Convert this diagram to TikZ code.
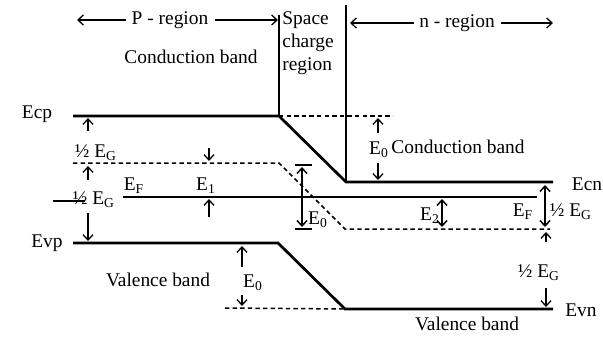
\documentclass[tikz,border=0pt]{standalone}
\usepackage{fontspec}
\setmainfont{Liberation Serif}
\usetikzlibrary{arrows.meta}
\begin{document}
\begin{tikzpicture}[x=0.5pt,y=-0.5pt,
  band/.style={line width=1.35pt},
  thinln/.style={line width=0.7pt},
  wall/.style={line width=0.9pt},
  lvl/.style={line width=0.75pt, dash pattern=on 2.2pt off 1.6pt},
  lbl/.style={font=\fontsize{9.7}{11}\selectfont, inner sep=0pt},
  arr/.style={line width=0.65pt,-{Straight Barb[length=2.7pt,width=5pt]}},
  darr/.style={line width=0.75pt,{Straight Barb[length=2.7pt,width=5pt]}-{Straight Barb[length=2.7pt,width=5pt]}},
]
\useasboundingbox (0,0) rectangle (603,342);

% band corners
\coordinate (cpL) at (73,116);
\coordinate (cpR) at (279,116);
\coordinate (cnL) at (346,182);
\coordinate (cnR) at (553,182);
\coordinate (vpL) at (73,243);
\coordinate (vpR) at (278,243);
\coordinate (vnL) at (345,309);
\coordinate (vnR) at (553,309);
\coordinate (ipL) at (73,163);
\coordinate (ipR) at (279,163);
\coordinate (inL) at (345,229);
\coordinate (inR) at (550,229);
\coordinate (fL) at (123,197);
\coordinate (fR) at (537,197);
\coordinate (cext) at (393,116);
\coordinate (vext) at (225,308);
\coordinate (w1top) at (279,15);
\coordinate (w2top) at (346,5);

% bands and levels
\draw[band] (cpL) -- (cpR) -- (cnL) -- (cnR);
\draw[band] (vpL) -- (vpR) -- (vnL) -- (vnR);
\draw[lvl] (ipL) -- (ipR) -- (inL) -- (inR);
\draw[thinln] (fL) -- (fR);
\draw[lvl] (cpR) -- (cext);
\draw[lvl] (vext) -- (vnL);
\draw[wall] (w1top) -- (cpR);
\draw[wall] (w2top) -- (cnL);

% top labels
\node[lbl] (preg) at (170,20) {P - region};
\coordinate (pA) at (77,20);
\coordinate (pB) at (278,20);
\draw[arr] ([xshift=-2.5pt]preg.west) -- (pA);
\draw[arr] ([xshift=3pt]preg.east) -- (pB);
\node[lbl] (nreg) at (457,23) {n - region};
\coordinate (nA) at (350,23);
\coordinate (nB) at (553,23);
\draw[arr] ([xshift=-2.5pt]nreg.west) -- (nA);
\draw[arr] ([xshift=3pt]nreg.east) -- (nB);
\node[lbl, anchor=base west] (sc1) at (282,25) {Space};
\node[lbl, anchor=base west] (sc2) at (282,47.5) {charge};
\node[lbl, anchor=base west] (sc3) at (282,70) {region};

% band labels
\node[lbl] (Ecp) at (37,114) {Ecp};
\node[lbl] (Ecn) at (587,184) {Ecn};
\node[lbl] (Evp) at (47,243) {Evp};
\node[lbl] (Evn) at (581,310) {Evn};
\node[lbl] (cb1) at (191,57) {Conduction band};
\node[lbl] (cb2) at (458,147) {Conduction band};
\node[lbl] (vb1) at (158,280) {Valence band};
\node[lbl] (vb2) at (467,324) {Valence band};

% energy labels
\node[lbl] (hEG1) at (96,153) {½ E\textsubscript{G}};
\node[lbl] (hEG2) at (94,200) {½ E\textsubscript{G}};
\node[lbl] (hEG3) at (571,212) {½ E\textsubscript{G}};
\node[lbl] (hEG4) at (539,273) {½ E\textsubscript{G}};
\node[lbl] (EF1) at (134,186) {E\textsubscript{F}};
\node[lbl] (EF2) at (523,212) {E\textsubscript{F}};
\node[lbl] (E1) at (206,186) {E\textsubscript{1}};
\node[lbl] (E2) at (430,216) {E\textsubscript{2}};
\node[lbl] (E0a) at (379,150) {E\textsubscript{0}};
\node[lbl] (E0b) at (318,220) {E\textsubscript{0}};
\node[lbl] (E0c) at (253,283) {E\textsubscript{0}};

% strike line through lower half-gap label
\coordinate (sA) at (53,201);
\coordinate (sB) at (85,201);
\draw[thinln] (sA) -- (sB);

% arrow ends
\coordinate (a1t) at (88,131);  \coordinate (a1h) at (88,118);
\coordinate (a2t) at (209,148); \coordinate (a2h) at (209,161);
\coordinate (a3t) at (88,180);  \coordinate (a3h) at (88,166);
\coordinate (a4t) at (88,213);  \coordinate (a4h) at (88,241);
\coordinate (a5t) at (209,217); \coordinate (a5h) at (209,199);
\coordinate (a6t) at (378,133); \coordinate (a6h) at (378,118);
\coordinate (a7t) at (378,163); \coordinate (a7h) at (378,180);
\coordinate (a8t) at (442,199); \coordinate (a8h) at (442,227);
\coordinate (a9t) at (302,167); \coordinate (a9h) at (302,227);
\coordinate (a10t) at (545,185); \coordinate (a10h) at (545,227);
\coordinate (a11t) at (546,242); \coordinate (a11h) at (546,232);
\coordinate (a12t) at (546,288); \coordinate (a12h) at (546,307);
\coordinate (a13t) at (242,267); \coordinate (a13h) at (242,246);
\coordinate (a14t) at (242,295); \coordinate (a14h) at (242,306);

\draw[arr] (a1t) -- (a1h);
\draw[arr] (a2t) -- (a2h);
\draw[arr] (a3t) -- (a3h);
\draw[arr] (a4t) -- (a4h);
\draw[arr] (a5t) -- (a5h);
\draw[arr] (a6t) -- (a6h);
\draw[arr] (a7t) -- (a7h);
\draw[darr] (a8t) -- (a8h);
\draw[darr] (a9t) -- (a9h);
\draw[darr] (a10t) -- (a10h);
\draw[arr] (a11t) -- (a11h);
\draw[arr] (a12t) -- (a12h);
\draw[arr] (a13t) -- (a13h);
\draw[arr] (a14t) -- (a14h);

% ticks for middle E0
\coordinate (tkA) at (295,165); \coordinate (tkB) at (312,165);
\coordinate (tkC) at (295,229); \coordinate (tkD) at (312,229);
\draw[thinln] (tkA) -- (tkB);
\draw[thinln] (tkC) -- (tkD);
\end{tikzpicture}
\end{document}
